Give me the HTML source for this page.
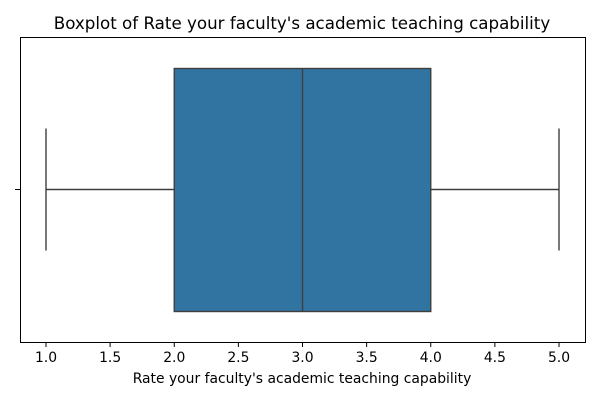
<!DOCTYPE html>
<html><head><meta charset="utf-8"><style>
body{margin:0;background:#fff;}
svg text{font-family:"DejaVu Sans","Liberation Sans",sans-serif;fill:#000;}
</style></head><body>
<svg width="600" height="400">
<text x="302" y="29" font-size="16.7" text-anchor="middle">Boxplot of Rate your faculty's academic teaching capability</text>
<g id="plot"></g>
<rect x="20.5" y="37.5" width="565" height="305" fill="none" stroke="#000" stroke-width="1"/>
<g id="xticks"></g>
<line x1="15" y1="189.5" x2="20" y2="189.5" stroke="#000"/>
<text x="302" y="383" font-size="13.9" text-anchor="middle">Rate your faculty's academic teaching capability</text>
</svg>
<script>
const tickValues=[1.0,1.5,2.0,2.5,3.0,3.5,4.0,4.5,5.0];
const tickLabels=["1.0","1.5","2.0","2.5","3.0","3.5","4.0","4.5","5.0"];
const stats=[1,2,3,4,5]; // min, q1, median, q3, max
const ns="http://www.w3.org/2000/svg";
const x=v=>46+(v-1)*128.25;
const cy=189.5, boxTop=68.5, boxBot=311.5, capTop=128.5, capBot=250.5;
function mk(t,a,p){const e=document.createElementNS(ns,t);for(const k in a)e.setAttribute(k,a[k]);p.appendChild(e);return e;}
const plot=document.getElementById('plot');
const lc="#3f3f3f";
const sw=1.4;
let e;
e=mk('line',{x1:x(stats[0]),x2:x(stats[1]),y1:cy,y2:cy,stroke:lc,'stroke-width':sw},plot);


e=mk('line',{x1:x(stats[3]),x2:x(stats[4]),y1:cy,y2:cy,stroke:lc,'stroke-width':sw},plot);


e=mk('line',{x1:x(stats[0]),x2:x(stats[0]),y1:capTop,y2:capBot,stroke:lc,'stroke-width':sw},plot);


e=mk('line',{x1:x(stats[4]),x2:x(stats[4]),y1:capTop,y2:capBot,stroke:lc,'stroke-width':sw},plot);


e=mk('rect',{x:x(stats[1]),y:boxTop,width:x(stats[3])-x(stats[1]),height:boxBot-boxTop,fill:"#3274a1",stroke:lc,'stroke-width':sw},plot);


e=mk('line',{x1:x(stats[2]),x2:x(stats[2]),y1:boxTop,y2:boxBot,stroke:lc,'stroke-width':sw},plot);


const xt=document.getElementById('xticks');
tickValues.forEach((v,i)=>{
 let l=mk('line',{x1:x(v),x2:x(v),y1:342,y2:347,stroke:"#000"},xt);
 
 
 let t=mk('text',{x:x(v),y:362,'font-size':13.9,'text-anchor':'middle'},xt);
 t.textContent=tickLabels[i];
 
 
});
</script>
</body></html>
